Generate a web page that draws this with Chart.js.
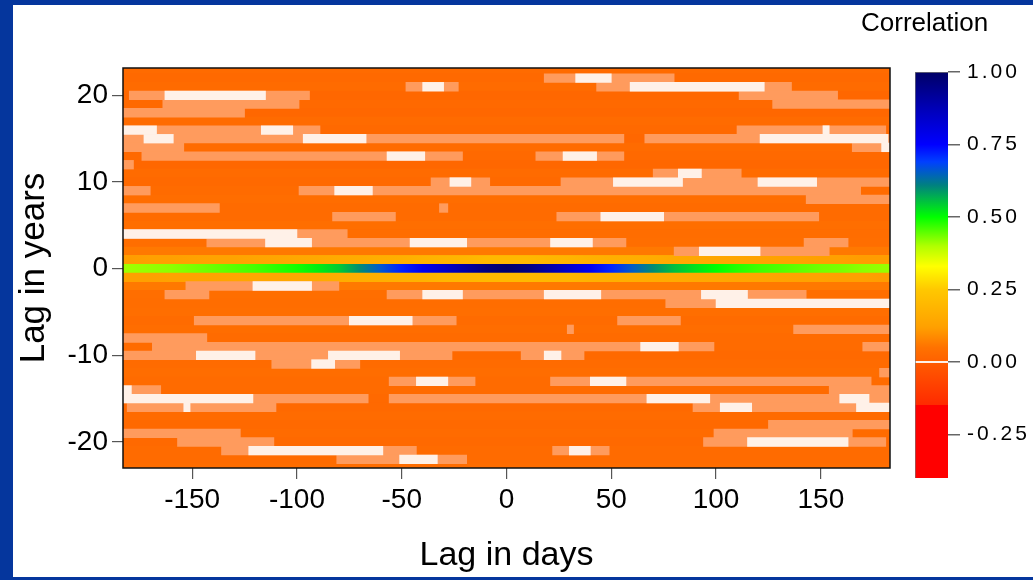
<!DOCTYPE html>
<html>
<head>
<meta charset="utf-8">
<script src="https://cdn.jsdelivr.net/npm/chart.js@4.4.1/dist/chart.umd.min.js"></script>
<style>
  body { margin: 0; width: 1033px; height: 580px; overflow: hidden; position: relative;
         background: #05369d; font-family: 'Liberation Sans', Arial, sans-serif; }
  #panel { position: absolute; left: 13px; top: 5px; width: 1020px; height: 572px; background: #fff; }
  #heat { position: absolute; left: 0; top: 0; }
  #scale { position: absolute; left: 880px; top: 0; }
  #scaleTitle { position: absolute; left: 861px; top: 7px; font-size: 26px; line-height: 30px; color: #000; }
</style>
</head>
<body>
<div id="panel"></div>
<canvas id="heat" width="905" height="580"></canvas>
<canvas id="scale" width="153" height="580"></canvas>
<div id="scaleTitle">Correlation</div>
<script>
// lag in years, one heatmap row each (top to bottom)
const lagYears = [23, 22, 21, 20, 19, 18, 17, 16, 15, 14, 13, 12, 11, 10, 9, 8, 7, 6, 5, 4, 3, 2, 1, 0,
  -1, -2, -3, -4, -5, -6, -7, -8, -9, -10, -11, -12, -13, -14, -15, -16, -17, -18, -19, -20, -21, -22, -23];
// background correlation of each row
const rowCorr = [0.03, 0.025, 0.03, 0.02, 0.025, 0.02, 0.03, 0.025, 0.02, 0.03, 0.025, 0.02, 0.03, 0.025,
  0.03, 0.035, 0.03, 0.03, 0.04, 0.035, 0.04, 0.06, 0.15, 0.7,
  0.15, 0.06, 0.04, 0.035, 0.04, 0.03, 0.035, 0.03, 0.03, 0.025, 0.03, 0.035, 0.03, 0.03, 0.025,
  0.025, 0.03, 0.025, 0.03, 0.025, 0.03, 0.03, 0.035];

// rows around zero lag change along the day axis
const profileDays = [-180, -170, -160, -150, -140, -130, -120, -110, -100, -90, -80, -70, -60, -50, -40,
  -30, -20, -10, 0, 10, 20, 30, 40, 50, 60, 70, 80, 90, 100, 110, 120, 130, 140, 150, 160, 170, 180];
const lag0Corr = [0.41, 0.415, 0.42, 0.43, 0.44, 0.45, 0.46, 0.475, 0.49, 0.515, 0.545, 0.6, 0.66, 0.72,
  0.78, 0.84, 0.9, 0.96, 0.99, 0.96, 0.9, 0.84, 0.775, 0.715, 0.655, 0.6, 0.555, 0.525, 0.5, 0.48,
  0.465, 0.455, 0.445, 0.435, 0.43, 0.42, 0.415];
const lagPlus1Corr = [0.115, 0.12, 0.12, 0.125, 0.13, 0.13, 0.135, 0.14, 0.145, 0.15, 0.155, 0.16, 0.165,
  0.17, 0.18, 0.185, 0.19, 0.2, 0.2, 0.2, 0.19, 0.185, 0.175, 0.17, 0.165, 0.16, 0.15, 0.145, 0.14,
  0.135, 0.13, 0.125, 0.125, 0.12, 0.12, 0.115, 0.115];
const lagMinus1Corr = [0.12, 0.12, 0.125, 0.125, 0.13, 0.135, 0.14, 0.14, 0.145, 0.15, 0.16, 0.165, 0.17,
  0.175, 0.18, 0.19, 0.195, 0.2, 0.2, 0.2, 0.195, 0.19, 0.18, 0.17, 0.165, 0.16, 0.155, 0.15, 0.145,
  0.14, 0.135, 0.13, 0.125, 0.125, 0.12, 0.12, 0.115];

// stretches that fall close to zero: [lag year, from day, to day]
const paleCorr = 0.0038;
const paleBands = [
  [22, 18, 80], [21, -48, -23], [21, 43, 136], [20, -180, -94], [20, 111, 158], [19, -164, -99],
  [19, 127, 183], [18, -183, -125], [16, -183, -89], [16, 110, 181], [15, -183, 56], [15, 66, 183],
  [14, -183, -154], [14, 165, 183], [13, -174, -21], [13, 14, 56], [12, -183, -178], [11, 70, 112],
  [10, -36, -8], [10, 26, 183], [9, -183, -170], [9, -99, 169], [8, 143, 183], [7, -183, -137],
  [7, -32, -28], [6, -83, -53], [6, 24, 149], [4, -183, -76], [3, -143, 57], [3, 142, 163],
  [2, 80, 154], [-2, -153, -80], [-3, -163, -142], [-3, -57, 143], [-4, 76, 183], [-6, -149, -24],
  [-6, 53, 83], [-7, 29, 32], [-7, 137, 183], [-8, -183, -143], [-9, -169, 99], [-9, 170, 183],
  [-10, -183, -26], [-10, 7, 37], [-11, -112, -70], [-12, 178, 183], [-13, -56, -15], [-13, 21, 174],
  [-14, -183, -165], [-14, 154, 183], [-15, -183, -66], [-15, -56, 183], [-16, -181, -110],
  [-16, 89, 183], [-18, 125, 183], [-19, -183, -127], [-19, 99, 165], [-20, -157, -111],
  [-20, 94, 181], [-21, -136, -43], [-21, 22, 49], [-22, -81, -19]
];
const nullCorr = 0.0;
const nullBands = [
  [22, 33, 50], [21, -40, -30], [21, 59, 123], [20, -163, -115], [16, -183, -167], [16, -117, -102],
  [16, 151, 154], [15, -173, -159], [15, -97, -67], [15, 121, 182], [14, 179, 183], [13, -57, -39],
  [13, 27, 43], [11, 82, 93], [10, -27, -17], [10, 51, 84], [10, 120, 148], [9, -82, -64],
  [6, 45, 75], [4, -183, -100], [3, -115, -93], [3, -46, -19], [3, 21, 41], [2, 92, 121],
  [-2, -121, -93], [-3, -40, -21], [-3, 18, 45], [-3, 93, 115], [-4, 100, 183], [-6, -75, -45],
  [-9, 64, 82], [-10, -148, -120], [-10, -85, -51], [-10, 18, 26], [-11, -93, -82], [-13, -43, -28],
  [-13, 40, 57], [-14, -183, -179], [-15, -183, -121], [-15, 67, 97], [-15, 159, 173],
  [-16, -154, -151], [-16, 102, 117], [-16, 167, 183], [-20, 115, 163], [-21, -123, -59],
  [-21, 30, 40], [-22, -51, -33]
];

const dayTicks = [-150, -100, -50, 0, 50, 100, 150];
const yearTicks = [-20, -10, 0, 10, 20];
const corrTicks = [-0.25, 0, 0.25, 0.5, 0.75, 1];
const dayRange = [-183, 183];
const yearRange = [-23, 23.16];
const corrRange = [-0.4, 1.0];

// colour ramp of the correlation scale
const ramp = [
  [-0.40, '#ff0000'], [-0.15, '#ff0000'], [-0.148, '#ff2a00'], [-0.005, '#ff5a00'],
  [-0.002, '#fff1e8'], [0.002, '#fff1e8'], [0.005, '#ff6200'], [0.05, '#ff7200'],
  [0.12, '#ffa000'], [0.25, '#ffc800'], [0.33, '#ffff00'], [0.40, '#b0ff00'],
  [0.50, '#00ff00'], [0.61, '#008080'], [0.69, '#0040ff'], [0.75, '#0000ff'],
  [0.86, '#0000c0'], [1.00, '#000066']
];
const rampRgb = ramp.map(([v, c]) => [v, [1, 3, 5].map(i => parseInt(c.slice(i, i + 2), 16))]);

function corrColor(r) {
  let prev = rampRgb[0];
  if (r <= prev[0]) return ramp[0][1];
  for (const stop of rampRgb) {
    if (r <= stop[0]) {
      const t = stop[0] > prev[0] ? (r - prev[0]) / (stop[0] - prev[0]) : 1;
      const c = prev[1].map((a, k) => Math.round(a + (stop[1][k] - a) * t));
      return `rgb(${c.join(',')})`;
    }
    prev = stop;
  }
  return ramp[ramp.length - 1][1];
}

function profileFill(chart, corr) {
  const x = chart.scales.x;
  const x0 = x && x.getPixelForValue(dayRange[0]);
  const x1 = x && x.getPixelForValue(dayRange[1]);
  if (!Number.isFinite(x0) || !Number.isFinite(x1) || x0 === x1) return 'transparent';
  const span = dayRange[1] - dayRange[0];
  const g = chart.ctx.createLinearGradient(x0, 0, x1, 0);
  profileDays.forEach((d, i) => g.addColorStop((d - dayRange[0]) / span, corrColor(corr[i])));
  return g;
}

function rampFill(chart) {
  const y = chart.scales.y;
  const y0 = y && y.getPixelForValue(corrRange[0]);
  const y1 = y && y.getPixelForValue(corrRange[1]);
  if (!Number.isFinite(y0) || !Number.isFinite(y1) || y0 === y1) return 'transparent';
  const span = corrRange[1] - corrRange[0];
  const g = chart.ctx.createLinearGradient(0, y0, 0, y1);
  ramp.forEach(([v, c]) => g.addColorStop((v - corrRange[0]) / span, c));
  return g;
}

Chart.defaults.font.family = "'Liberation Sans', Arial, sans-serif";
Chart.defaults.color = '#000';

const profiles = [[1, lagPlus1Corr], [0, lag0Corr], [-1, lagMinus1Corr]];
const band = ([y, from, to]) => ({ x: [from, to], y });

const plotFrame = {
  id: 'plotFrame',
  afterDatasetsDraw(chart) {
    const { ctx, chartArea: a } = chart;
    ctx.save();
    ctx.strokeStyle = '#111';
    ctx.lineWidth = 1.5;
    ctx.strokeRect(a.left, a.top, a.right - a.left, a.bottom - a.top);
    ctx.restore();
  }
};

new Chart(document.getElementById('heat'), {
  type: 'bar',
  data: {
    datasets: [
      {
        data: lagYears.map(y => ({ x: [dayRange[0], dayRange[1]], y })),
        backgroundColor: rowCorr.map(corrColor),
        order: 4
      },
      {
        data: profiles.map(([y]) => ({ x: [dayRange[0], dayRange[1]], y })),
        backgroundColor: ctx => profileFill(ctx.chart, profiles[ctx.dataIndex][1]),
        order: 3
      },
      {
        data: paleBands.map(band),
        backgroundColor: corrColor(paleCorr),
        order: 2
      },
      {
        data: nullBands.map(band),
        backgroundColor: corrColor(nullCorr),
        order: 1
      }
    ]
  },
  options: {
    responsive: false,
    animation: false,
    indexAxis: 'y',
    datasets: { bar: { grouped: false, barPercentage: 1, categoryPercentage: 1, borderWidth: 0 } },
    layout: { padding: { left: 0, right: 15, top: 68, bottom: 0 } },
    plugins: { legend: { display: false }, tooltip: { enabled: false } },
    scales: {
      x: {
        type: 'linear',
        min: dayRange[0],
        max: dayRange[1],
        afterBuildTicks: s => { s.ticks = dayTicks.map(value => ({ value })); },
        afterFit: s => { s.height = 112; },
        ticks: { font: { size: 28 }, padding: 4, maxRotation: 0, autoSkip: false },
        grid: { drawOnChartArea: false, tickLength: 11, color: '#555', lineWidth: 1.2 },
        border: { display: false },
        title: { display: true, text: 'Lag in days', font: { size: 34 }, padding: { top: 0, bottom: 4 } }
      },
      y: {
        type: 'linear',
        offset: false,
        min: yearRange[0],
        max: yearRange[1],
        afterBuildTicks: s => { s.ticks = yearTicks.map(value => ({ value })); },
        afterFit: s => { s.width = 123; },
        ticks: { font: { size: 28 }, padding: 4, autoSkip: false },
        grid: { offset: false, drawOnChartArea: false, tickLength: 11, color: '#555', lineWidth: 1.2 },
        border: { display: false },
        title: { display: true, text: 'Lag in years', font: { size: 35 }, padding: { top: 13, bottom: 0 } }
      }
    }
  },
  plugins: [plotFrame]
});

// colour key
const spacedLabels = {
  id: 'spacedLabels',
  beforeDraw(chart) { chart.ctx.letterSpacing = '3px'; }
};

new Chart(document.getElementById('scale'), {
  type: 'bar',
  data: {
    labels: ['r'],
    datasets: [{
      data: [corrRange],
      backgroundColor: ctx => rampFill(ctx.chart),
      borderColor: '#777',
      borderWidth: { left: 1, top: 1, right: 0, bottom: 0 },
      borderSkipped: false,
      barPercentage: 1,
      categoryPercentage: 1
    }]
  },
  options: {
    responsive: false,
    animation: false,
    layout: { padding: { left: 35, right: 0, top: 72, bottom: 102 } },
    plugins: { legend: { display: false }, tooltip: { enabled: false } },
    scales: {
      x: { display: false },
      y: {
        position: 'right',
        min: corrRange[0],
        max: corrRange[1],
        afterBuildTicks: s => { s.ticks = corrTicks.map(value => ({ value })); },
        afterFit: s => { s.width = 85; },
        ticks: { font: { size: 21 }, padding: 7, callback: v => v.toFixed(2) },
        grid: { drawOnChartArea: false, tickLength: 12, color: '#666', lineWidth: 1.5 },
        border: { display: false }
      }
    }
  },
  plugins: [spacedLabels]
});
</script>
</body>
</html>
